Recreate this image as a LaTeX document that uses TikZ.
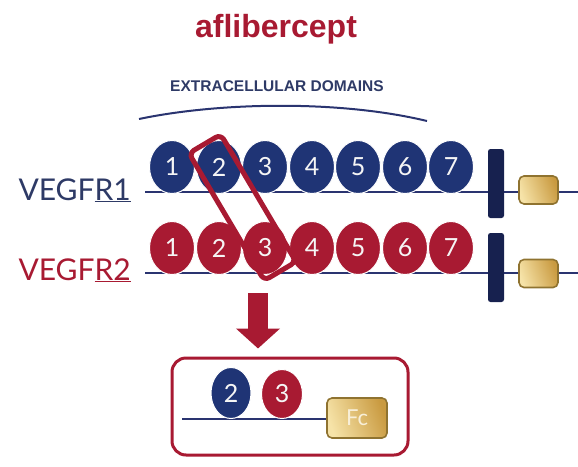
\documentclass[tikz,border=0pt]{standalone}
\usepackage{fontspec}
\setmainfont{Lato}
\newfontfamily\headfont{Liberation Sans}
\usetikzlibrary{shapes.geometric,arrows.meta,shadings}

\definecolor{navy}{HTML}{1F3475}
\definecolor{navyline}{HTML}{2A3470}
\definecolor{navytext}{HTML}{2E3A66}
\definecolor{crimson}{HTML}{A81A32}
\definecolor{bardark}{HTML}{17214F}
\definecolor{goldlight}{HTML}{F6E3A8}
\definecolor{golddark}{HTML}{C99A40}
\definecolor{goldedge}{HTML}{8F7330}
\definecolor{fctext}{HTML}{F8EFD8}

\tikzset{
  dom/.style={ellipse, minimum width=45pt, minimum height=53pt, inner sep=0pt,
    draw=white, line width=1pt, text=white!92!gray,
    font=\fontsize{25}{25}\selectfont},
  domb/.style={dom, fill=navy},
  domr/.style={dom, fill=crimson},
  membrane/.style={draw=navyline, line width=2.6pt},
  tmbar/.style={rectangle, rounded corners=2.5pt, fill=bardark,
    minimum width=16pt, minimum height=69pt, inner sep=0pt},
  fcbox/.style={rectangle, rounded corners=5pt, draw=goldedge, line width=1.6pt,
    left color=goldlight, right color=golddark, shading angle=110,
    inner sep=0pt},
  label/.style={font=\fontsize{30}{30}\selectfont, anchor=base west},
}

\begin{document}
\begin{tikzpicture}[x=1pt, y=-1pt]
  \useasboundingbox (0,0) rectangle (578,466);

  % title and header
  \node[font=\headfont\bfseries\fontsize{32}{32}\selectfont, text=crimson]
    (title) at (276,29) {aflibercept};
  \node[font=\headfont\bfseries\fontsize{15.5}{15.5}\selectfont, text=navytext]
    (hdr) at (277,86) {EXTRACELLULAR DOMAINS};
  \coordinate (arcL) at (139,119);
  \coordinate (arcR) at (427,121);
  \draw[navyline, line width=2pt] (arcL) .. controls (220,102) and (340,100) .. (arcR);

  % receptor labels
  \node[label, text=navytext] (lab1) at (15,200) {VEGF\underline{R1}};
  \node[label, text=crimson] (lab2) at (15,280) {VEGF\underline{R2}};

  % membrane lines
  \coordinate (m1a) at (145,192);
  \coordinate (m1b) at (578,192);
  \coordinate (m2a) at (145,273);
  \coordinate (m2b) at (578,273);
  \draw[membrane] (m1a) -- (m1b);
  \draw[membrane] (m2a) -- (m2b);

  % transmembrane bars and intracellular boxes
  \node[tmbar] (bar1) at (496,183.5) {};
  \node[tmbar] (bar2) at (496,267.5) {};
  \node[fcbox, minimum width=39pt, minimum height=28pt] (kin1) at (538.5,190) {};
  \node[fcbox, minimum width=39pt, minimum height=28pt] (kin2) at (538.5,273.5) {};

  % extracellular domains
  \foreach \i/\x in {1/172,2/219,3/265,4/312,5/358,6/405,7/451} {
    \node[domb] (a\i) at (\x,167) {\i};
    \node[domr] (b\i) at (\x,248) {\i};
  }

  % selection frame around domain 2 of R1 and domain 3 of R2
  \node[draw=crimson, line width=5pt, rounded corners=6pt, rotate=-59.4,
    minimum width=148pt, minimum height=37pt, inner sep=0pt]
    (sel) at (242.5,207.5) {};

  % result box
  \node[draw=crimson, line width=3pt, rounded corners=14pt,
    minimum width=236pt, minimum height=97pt, inner sep=0pt]
    (res) at (290,406.5) {};
  \coordinate (arrtop) at (258,293);
  \draw[crimson, line width=20pt, -{Triangle[width=43pt, length=20pt]},
    shorten >=8pt] (arrtop) -- (arrtop |- res.north);

  \node[fcbox, minimum width=60pt, minimum height=40pt, text=fctext,
    font=\fontsize{22}{22}\selectfont] (fc) at (357,418) {Fc};
  \coordinate (linkstart) at (182,419);
  \draw[membrane, line width=2.2pt] (linkstart) -- (fc.west |- linkstart);
  \node[domb, minimum width=40pt, minimum height=51pt] (r2) at (231,393) {2};
  \node[domr, minimum width=41pt, minimum height=49pt] (r3) at (282,394) {3};
\end{tikzpicture}
\end{document}
